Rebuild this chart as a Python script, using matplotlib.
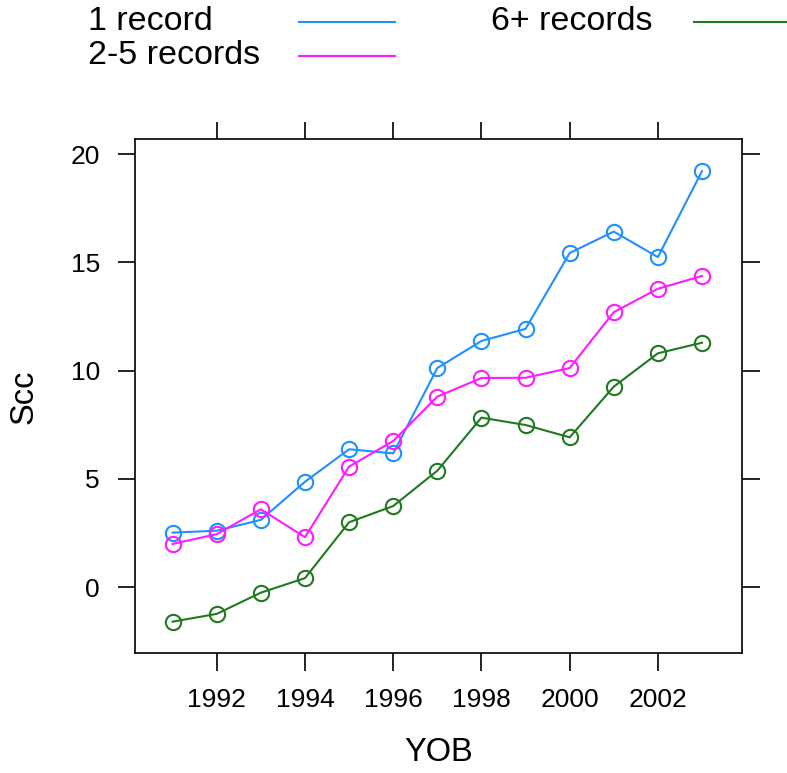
import matplotlib
matplotlib.use("Agg")
import matplotlib.pyplot as plt
from matplotlib.lines import Line2D

plt.rcParams['font.family'] = ['Liberation Sans', 'DejaVu Sans']

years = [1991, 1992, 1993, 1994, 1995, 1996, 1997, 1998, 1999, 2000, 2001, 2002, 2003]
one_record = [2.52, 2.61, 3.11, 4.87, 6.37, 6.18, 10.12, 11.37, 11.93, 15.43, 16.42, 15.24, 19.21]
two_five_records = [2.00, 2.45, 3.60, 2.31, 5.57, 6.75, 8.80, 9.66, 9.67, 10.12, 12.70, 13.78, 14.37]
six_plus_records = [-1.59, -1.23, -0.25, 0.42, 3.00, 3.75, 5.38, 7.83, 7.49, 6.92, 9.26, 10.80, 11.29]

series_names = ["1 record", "2-5 records", "6+ records"]
series_colors = ["#2090ff", "#ff1aff", "#1f7a1f"]
x_ticks = [1992, 1994, 1996, 1998, 2000, 2002]
y_ticks = [0, 5, 10, 15, 20]

W, H = 787, 773
fig = plt.figure(figsize=(W / 100, H / 100), dpi=100)
ax = fig.add_axes([134.7 / W, 1 - 653.3 / H, (741.7 - 134.7) / W, (653.3 - 139.3) / H])

for vals, col in zip([one_record, two_five_records, six_plus_records], series_colors):
    ax.plot(years, vals, color=col, lw=1.5, marker='o', ms=11,
            mfc='none', mec=col, mew=1.5)

ax.set_xlim(1990.14, 2003.90)
ax.set_ylim(-3.05, 20.68)
ax.set_xticks(x_ticks)
ax.set_yticks(y_ticks)
ax.set_xticklabels([str(t) for t in x_ticks])
ax.set_yticklabels([str(t) for t in y_ticks])
ax.tick_params(axis='both', direction='out', length=12.6, width=1.2,
               labelsize=19, pad=12.5, top=True, right=True,
               labeltop=False, labelright=False, colors='black')
for s in ax.spines.values():
    s.set_linewidth(1.2)
    s.set_color('black')

ax.set_xlabel("YOB", fontsize=23.5)
ax.set_ylabel("Scc", fontsize=23.5)
ax.xaxis.set_label_coords(0.5, -(752.5 - 653.3) / (653.3 - 139.3))
ax.xaxis.label.set_va('center')
ax.yaxis.set_label_coords(-(134.7 - 24.5) / (741.7 - 134.7), 0.5)
ax.yaxis.label.set_va('center')

# Key (legend) at top
def fx(px):
    return px / W

def fy(py):
    return 1 - py / H

key_pos = [(87.5, 21.5, 299, 395), (87.5, 56, 299, 395), (491, 21.5, 694, 800)]
for name, col, (tx, ty, lx0, lx1) in zip(series_names, series_colors, key_pos):
    fig.text(fx(tx), fy(ty), name, fontsize=24.5, ha='left', va='center')
    fig.add_artist(Line2D([fx(lx0), fx(lx1)], [fy(ty), fy(ty)], color=col, lw=1.5,
                          transform=fig.transFigure))

fig.savefig("out.png", dpi=100)
